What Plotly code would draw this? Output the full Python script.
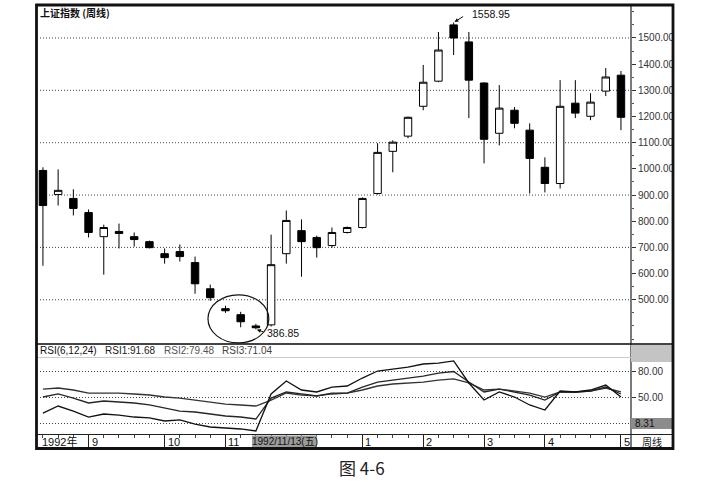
import plotly.graph_objects as go

W, H = 719, 483

# weekly candles of the Shanghai index, Aug 1992 - May 1993
OPEN  = [994, 902, 887, 833, 741, 761, 741, 722, 676, 684, 642, 542, 466, 443, 400,
         404, 676, 764, 738, 707, 757, 776, 906, 1067, 1125, 1239, 1335, 1550, 1485, 1328,
         1136, 1224, 1148, 1006, 944, 1251, 1201, 1297, 1358]
HIGH  = [1006, 998, 922, 845, 787, 791, 757, 726, 696, 711, 665, 558, 477, 454, 408,
         749, 841, 807, 745, 776, 780, 891, 1098, 1109, 1200, 1397, 1523, 1558.95, 1523, 1331,
         1320, 1236, 1174, 1044, 1339, 1339, 1289, 1385, 1374]
LOW   = [630, 860, 822, 738, 596, 696, 703, 696, 638, 646, 523, 496, 450, 395, 386.85,
         398, 638, 588, 661, 699, 753, 772, 902, 987, 1117, 1224, 1331, 1435, 1194, 1021,
         1090, 1155, 906, 910, 925, 1194, 1186, 1278, 1148]
CLOSE = [860, 918, 849, 757, 776, 753, 730, 699, 661, 665, 561, 508, 458, 416, 393,
         634, 803, 722, 699, 757, 776, 887, 1063, 1102, 1197, 1331, 1454, 1500, 1339, 1113,
         1232, 1174, 1040, 944, 1239, 1213, 1255, 1351, 1197]
WEEK = list(range(len(OPEN)))

# RSI(6,12,24)
RSI1 = [31.5, 39.6, 33.8, 26.9, 30.4, 29.2, 26.9, 25.8, 22.3, 23.5, 18.8, 15.4, 14.2, 13.1, 10.8,
        53.5, 68.5, 58.1, 55.8, 61.5, 62.7, 71.9, 80.0, 82.3, 84.6, 88.1, 89.2, 91.68, 66.2, 46.5,
        55.8, 50.0, 40.8, 35.0, 56.9, 55.8, 58.1, 63.8, 50.0]
RSI2 = [50.0, 53.5, 48.8, 43.1, 45.4, 44.2, 43.1, 40.8, 37.3, 33.8, 32.7, 30.4, 28.1, 26.9, 24.6,
        48.8, 55.8, 53.5, 51.2, 54.6, 54.6, 61.5, 67.3, 69.6, 71.9, 74.2, 77.7, 79.48, 67.3, 55.8,
        59.2, 55.8, 52.3, 46.5, 55.8, 55.8, 56.9, 61.5, 53.5]
RSI3 = [59.2, 60.4, 58.1, 54.6, 54.6, 54.6, 53.5, 52.3, 50.0, 48.8, 46.5, 44.2, 41.9, 40.8, 39.6,
        46.5, 54.6, 52.3, 51.2, 53.5, 54.6, 58.1, 62.7, 65.0, 66.2, 67.3, 69.6, 71.04, 66.2, 58.1,
        59.2, 56.9, 54.6, 50.0, 55.8, 55.8, 56.9, 60.4, 55.8]

MONTH_IDX = [3, 8, 12, 21, 25, 29, 33, 38]
MONTH_LBL = ['9', '10', '11', '1', '2', '3', '4', '5']

PRICE_TICKS = list(range(500, 1600, 100))
PRICE_GRID = list(range(500, 1600, 200))
RSI_TICKS = [20, 50, 80]
RSI_TEXT = ['', '50.00', '80.00']

FONT = 'Liberation Sans, Arial, Noto Sans CJK SC, sans-serif'
CJK = 'Noto Sans CJK SC'
DOTS = '1px,2px'


def px(x):
    return x / W


def py(y):
    return 1 - y / H


X0, X1 = px(37), px(631)

fig = go.Figure()

fig.add_trace(go.Candlestick(x=WEEK, open=OPEN, high=HIGH, low=LOW, close=CLOSE,
                             increasing=dict(fillcolor='white', line=dict(color='black', width=1)),
                             decreasing=dict(fillcolor='black', line=dict(color='black', width=1)),
                             whiskerwidth=0, xaxis='x', yaxis='y'))

for vals, col in [(RSI3, '#333333'), (RSI2, '#262626'), (RSI1, '#111111')]:
    fig.add_trace(go.Scatter(x=WEEK, y=vals, mode='lines',
                             line=dict(color=col, width=1.3),
                             xaxis='x2', yaxis='y2'))

fig.update_layout(
    width=W, height=H,
    margin=dict(l=0, r=0, t=0, b=0),
    paper_bgcolor='white', plot_bgcolor='white',
    showlegend=False,
    font=dict(family=FONT, size=10, color='#222'),
    xaxis=dict(domain=[X0, X1], range=[-0.39, 38.66], anchor='y',
               showticklabels=False, ticks='', showgrid=False, zeroline=False,
               rangeslider=dict(visible=False)),
    xaxis2=dict(domain=[X0, X1], matches='x', anchor='y2',
                showticklabels=False, showgrid=False, zeroline=False,
                tickmode='array', tickvals=MONTH_IDX, ticks='outside',
                ticklen=13, tickwidth=1, tickcolor='#222',
                minor=dict(tickmode='array', tickvals=WEEK, ticks='outside',
                           ticklen=3, tickcolor='#444')),
    yaxis=dict(domain=[py(344), py(5)], range=[331, 1626], anchor='x', side='right',
               tickmode='array', tickvals=PRICE_TICKS,
               ticktext=['%.2f' % v for v in PRICE_TICKS],
               ticks='outside', ticklen=4, tickcolor='#333',
               minor=dict(dtick=50, tick0=0, ticks='outside', ticklen=2, tickcolor='#555'),
               showgrid=False, zeroline=False, tickfont=dict(size=10, color='#333')),
    yaxis2=dict(domain=[py(434), py(344)], range=[7.3, 111.2], anchor='x2', side='right',
                tickmode='array', tickvals=RSI_TICKS, ticktext=RSI_TEXT,
                ticks='outside', ticklen=4, tickcolor='#333',
                showgrid=True, griddash=DOTS, gridcolor='#444', gridwidth=1,
                zeroline=False, tickfont=dict(size=10, color='#333')),
)

# dotted price grid every 200
for g in PRICE_GRID:
    fig.add_shape(type='line', xref='x domain', yref='y', x0=0, x1=1, y0=g, y1=g,
                  line=dict(color='#444', width=1, dash=DOTS), layer='below')

# frame and panel separators
line = dict(color='#222', width=1.2)
fig.add_shape(type='line', xref='paper', yref='paper', x0=px(37), x1=px(673),
              y0=py(344), y1=py(344), line=dict(color='#444', width=2))
fig.add_shape(type='line', xref='paper', yref='paper', x0=px(37), x1=px(673),
              y0=py(434.5), y1=py(434.5), line=line)
fig.add_shape(type='line', xref='paper', yref='paper', x0=px(631), x1=px(631),
              y0=py(5), y1=py(448), line=line)
fig.add_shape(type='line', xref='paper', yref='paper', x0=px(37), x1=px(631),
              y0=py(357.5), y1=py(357.5), line=dict(color='#ccc', width=1))

# grey cells of the right axis and the date strip
fig.add_shape(type='rect', xref='paper', yref='paper', x0=px(631), x1=px(673),
              y0=py(362), y1=py(345), fillcolor='#c4c4c4', line=dict(width=0))
fig.add_shape(type='rect', xref='paper', yref='paper', x0=px(631), x1=px(673),
              y0=py(429), y1=py(418), fillcolor='#8c8c8c', line=dict(width=0))
fig.add_shape(type='rect', xref='paper', yref='paper', x0=px(252), x1=px(317),
              y0=py(447), y1=py(435.5), fillcolor='#9c9c9c', line=dict(width=0))

fig.add_shape(type='rect', xref='paper', yref='paper', x0=px(36.5), x1=px(673),
              y0=py(448.5), y1=py(5), line=dict(color='#111', width=2.8))

# ellipse round the bottom
fig.add_shape(type='circle', xref='x', yref='y', x0=10.85, x1=14.85, y0=335, y1=519,
              line=dict(color='#111', width=1.2))

# texts
fig.add_annotation(xref='paper', yref='paper', x=px(38), y=py(12), xanchor='left',
                   yanchor='middle', showarrow=False,
                   text='<b>上证指数 (周线)</b>', font=dict(family=CJK, size=10, color='#111'))

fig.add_annotation(xref='x', yref='y', x=27, y=1558.95, text='', showarrow=True,
                   ax=11, ay=-7, arrowhead=2, arrowsize=0.8, arrowwidth=1,
                   arrowcolor='#111', standoff=1)
fig.add_annotation(xref='x', yref='y', x=27, y=1558.95, text='1558.95', showarrow=False,
                   xanchor='left', yanchor='middle', xshift=16, yshift=9,
                   font=dict(size=10.5, color='#111'))

fig.add_annotation(xref='x', yref='y', x=14, y=386.85, text='', showarrow=True,
                   ax=9, ay=3, arrowhead=2, arrowsize=0.8, arrowwidth=1,
                   arrowcolor='#111', standoff=1)
fig.add_annotation(xref='x', yref='y', x=14, y=386.85, text='386.85', showarrow=False,
                   xanchor='left', yanchor='middle', xshift=9, yshift=-4,
                   font=dict(size=10.5, color='#111'))

for x, txt, col in [(38, 'RSI(6,12,24)', '#111'), (103, 'RSI1:91.68', '#222'),
                    (162, 'RSI2:79.48', '#555'), (220, 'RSI3:71.04', '#444')]:
    fig.add_annotation(xref='paper', yref='paper', x=px(x), y=py(350.5), text=txt,
                       showarrow=False, xanchor='left', yanchor='middle',
                       font=dict(size=10, color=col))

fig.add_annotation(xref='paper', yref='paper', x=px(633), y=py(423.5), text='8.31',
                   showarrow=False, xanchor='left', yanchor='middle',
                   font=dict(size=10, color='#111'))

# date strip
fig.add_annotation(xref='paper', yref='paper', x=px(40), y=py(441.5), text='1992年',
                   showarrow=False, xanchor='left', yanchor='middle',
                   font=dict(family=FONT, size=11, color='#111'))
for i, lbl in zip(MONTH_IDX, MONTH_LBL):
    fig.add_annotation(xref='x2', yref='paper', x=i, y=py(441.5), text=lbl,
                       showarrow=False, xanchor='left', yanchor='middle', xshift=1,
                       font=dict(size=11, color='#111'))
fig.add_annotation(xref='paper', yref='paper', x=px(284.5), y=py(441.5),
                   text='1992/11/13(五)', showarrow=False, xanchor='center',
                   yanchor='middle', font=dict(family=FONT, size=10, color='#111'))
fig.add_annotation(xref='paper', yref='paper', x=px(652), y=py(441.5), text='周线',
                   showarrow=False, xanchor='center', yanchor='middle',
                   font=dict(family=CJK, size=10, color='#111'))

# caption
fig.add_annotation(xref='paper', yref='paper', x=px(362), y=py(467), text='图 4-6',
                   showarrow=False, xanchor='center', yanchor='middle',
                   font=dict(family=CJK, size=17, color='#222'))

# the page body has a default 8px margin; drop it so the figure sits at 0,0
fig.write_html("out.html", config={'displayModeBar': False},
               post_script="document.body.style.margin='0px';")
